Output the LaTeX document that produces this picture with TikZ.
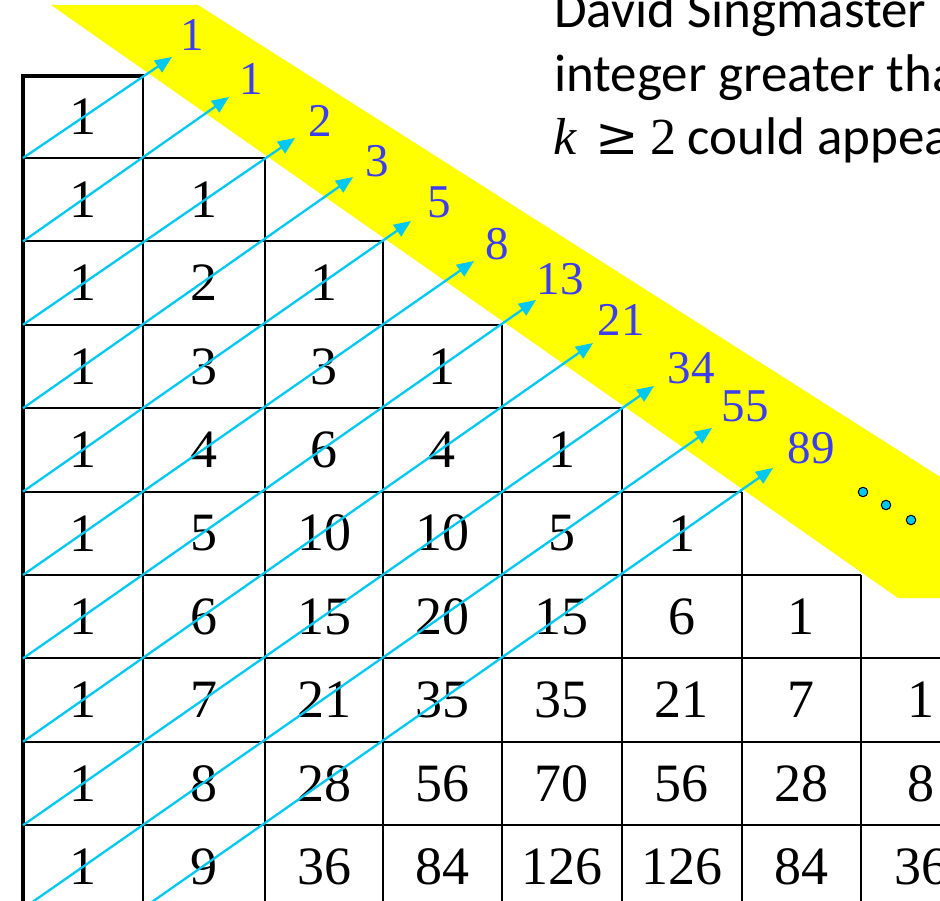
\documentclass[tikz,border=0pt]{standalone}
\usepackage{fontspec}
\setmainfont{Liberation Serif}
\newfontfamily\calibrifont{Carlito}
\newfontfamily\serifmath{Liberation Serif}
\newfontfamily\relfont{DejaVu Serif}
\usetikzlibrary{arrows.meta}
\definecolor{fibblue}{RGB}{60,60,240}
\definecolor{fibcyan}{RGB}{0,200,240}
\definecolor{bandyellow}{RGB}{255,255,0}
\tikzset{
  gridline/.style={line width=2pt, black},
  thickline/.style={line width=4.5pt, black, line join=miter},
  num/.style={inner sep=0pt, font=\fontsize{54}{60}\selectfont},
  fiblabel/.style={inner sep=0pt, text=fibblue, font=\fontsize{47}{52}\selectfont},
  fibarrow/.style={line width=2.3pt, fibcyan, -{Triangle[length=17pt,width=14pt]}},
  dotnode/.style={circle, draw=black, line width=1pt, fill=fibcyan, minimum size=9.5pt, inner sep=0pt},
  toptext/.style={inner sep=0pt, anchor=base west, font=\calibrifont\fontsize{53}{60}\selectfont}
}
\def\xs{{23,142.7,265.3,383,501.7,621.5,741.5,861,981,1100,1220}}
\def\ys{{76,158,241.4,324.8,408.2,491.6,575,658.4,741.8,825.2,908.6,992}}
\begin{document}
\begin{tikzpicture}[x=1pt,y=-1pt]
\useasboundingbox (0,0) rectangle (940,901);
\clip (0,0) rectangle (940,901);
% precompute cell centres
\foreach \j in {0,...,9}{
  \pgfmathsetmacro\xa{\xs[\j]}
  \pgfmathsetmacro\xb{\xs[\j+1]}
  \pgfmathsetmacro\tmpx{(\xa+\xb)/2}
  \expandafter\xdef\csname cellx\j\endcsname{\tmpx}
  \pgfmathsetmacro\ya{\ys[\j]}
  \pgfmathsetmacro\yb{\ys[\j+1]}
  \pgfmathsetmacro\tmpy{(\ya+\yb)/2}
  \expandafter\xdef\csname celly\j\endcsname{\tmpy}
}
% yellow band
\fill[bandyellow] (51,5) -- (198,5) -- (945,480) -- (945,598) -- (898,598) -- cycle;
% grid: horizontal row tops
\foreach \r in {1,...,9}{
  \pgfmathsetmacro\yy{\ys[\r]}
  \pgfmathsetmacro\xe{\xs[\r+1]}
  \coordinate (hl\r) at (23,\yy);
  \coordinate (hr\r) at (\xe,\yy);
  \draw[gridline] (hl\r) -- (hr\r);
}
% vertical lines
\foreach \j in {1,...,8}{
  \pgfmathsetmacro\xx{\xs[\j]}
  \pgfmathsetmacro\yy{\ys[\j-1]}
  \coordinate (vt\j) at (\xx,\yy);
  \coordinate (vb\j) at (\xx,910);
  \draw[gridline] (vt\j) -- (vb\j);
}
% thick left / top border
\coordinate (tb) at (23,910);
\coordinate (tc) at (23,76);
\coordinate (tr) at (143.7,76);
\draw[thickline] (tb) -- (tc) -- (tr);
% numbers
\foreach \r/\vals in {0/{1},1/{1,1},2/{1,2,1},3/{1,3,3,1},4/{1,4,6,4,1},5/{1,5,10,10,5,1},6/{1,6,15,20,15,6,1},7/{1,7,21,35,35,21,7,1},8/{1,8,28,56,70,56,28,8,1},9/{1,9,36,84,126,126,84,36,9,1}}{
  \foreach \v [count=\c from 0] in \vals {
    \node[num] (n\r-\c) at (\csname cellx\c\endcsname,\csname celly\r\endcsname) {\v};
  }
}
% diagonal arrows and Fibonacci labels
\foreach \k/\tx/\ty/\lab/\lx/\ly in {0/172/57/1/192/35,1/229/97/1/251/79,2/295/138/2/320/121,3/353/177/3/377/161,4/411/221/5/439/202,5/474/261/8/497/244,6/536/300/13/560/279,7/593/343/21/621/320,8/654/386/34/691/368,9/712/428/55/745/406,10/773/468/89/811/448}{
  \pgfmathsetmacro\sy{\ys[\k+1]}
  \coordinate (s\k) at (23,\sy);
  \coordinate (t\k) at (\tx,\ty);
  \draw[fibarrow] (s\k) -- (t\k);
  \node[fiblabel] (f\k) at (\lx,\ly) {\lab};
}
% dots
\node[dotnode] (d1) at (863,492) {};
\node[dotnode] (d2) at (886,505) {};
\node[dotnode] (d3) at (911,520) {};
% top right text
\node[toptext] (l1) at (554,28) {David Singmaster};
\node[toptext] (l2) at (554,92) {integer greater than};
\node[toptext] (l3) at (553,155) {{\serifmath\fontsize{52}{56}\selectfont\itshape k}\hspace{19pt}{\relfont\fontsize{52}{56}\selectfont ≥}\hspace{12pt}{\serifmath\fontsize{52}{56}\selectfont 2}\hspace{11pt}could appear};
\end{tikzpicture}
\end{document}
